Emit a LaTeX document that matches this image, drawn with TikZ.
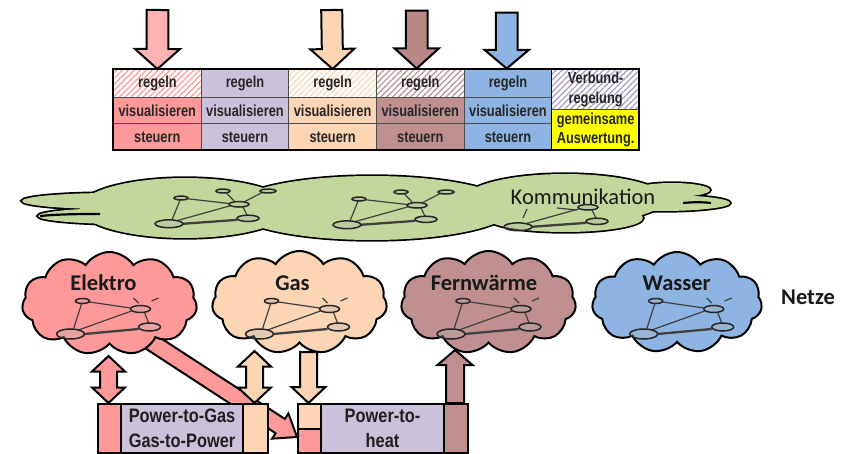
\documentclass[tikz,border=0pt]{standalone}
\usepackage{fontspec}
\usetikzlibrary{shapes.symbols,patterns.meta}
\newfontfamily\tabfont[FakeStretch=0.8]{Liberation Sans}
\newfontfamily\boxfont[FakeStretch=0.84]{Liberation Sans}
\newfontfamily\calfont{Carlito}
\definecolor{pk}{HTML}{FF9999}
\definecolor{pkarr}{HTML}{FFB3B3}
\definecolor{lav}{HTML}{CCC1DA}
\definecolor{pch}{HTML}{FCD5B4}
\definecolor{brn}{HTML}{C09090}
\definecolor{brnarr}{HTML}{BA8787}
\definecolor{blu}{HTML}{8EB4E3}
\definecolor{grn}{HTML}{C3D69B}
\definecolor{ylw}{HTML}{FFFF00}
\definecolor{hatchlav}{HTML}{A99BC6}
\newcommand\blockarrow[7]{%
  \path (#1); \pgfgetlastxy{\baX}{\baY}%
  \path (#2); \pgfgetlastxy{\bbX}{\bbY}%
  \pgfmathsetmacro\bAng{atan2((\bbY)-(\baY),(\bbX)-(\baX))}%
  \pgfmathsetmacro\bLen{veclen((\bbX)-(\baX),(\bbY)-(\baY))}%
  \pgfmathsetmacro\bNeck{\bLen-#5}%
  \begin{scope}[shift={(#1)}, rotate=\bAng]
    \ifnum#7=1
      \draw[blockarr, fill=#6] (0pt,0pt) -- (#5pt,#4pt) -- (#5pt,#3pt) -- (\bNeck pt,#3pt) -- (\bNeck pt,#4pt) -- (\bLen pt,0pt) -- (\bNeck pt,-#4pt) -- (\bNeck pt,-#3pt) -- (#5pt,-#3pt) -- (#5pt,-#4pt) -- cycle;
    \else
      \draw[blockarr, fill=#6] (0pt,#3pt) -- (\bNeck pt,#3pt) -- (\bNeck pt,#4pt) -- (\bLen pt,0pt) -- (\bNeck pt,-#4pt) -- (\bNeck pt,-#3pt) -- (0pt,-#3pt) -- cycle;
    \fi
  \end{scope}}
\tikzset{
  cell/.style={draw=black!70, line width=0.9, minimum width=87.67, inner sep=0, anchor=north west,
    font=\tabfont\bfseries\fontsize{16}{19.5}\selectfont, text=black!85, align=center},
  hatch/.style={preaction={fill=white}, pattern={Lines[angle=45,distance=4.2pt,line width=1.2pt]}, pattern color=#1},
  blockarr/.style={draw=black, line width=2, line join=miter},
  netcloud/.style={cloud, cloud puffs=11, cloud puff arc=115, draw=black, line width=2,
    minimum width=175, minimum height=103, inner sep=0},
  lbl/.style={font=\calfont\bfseries\fontsize{22.5}{26}\selectfont, text=black!90},
  boxpart/.style={draw=black, line width=2, inner sep=0, anchor=north west,
    font=\boxfont\bfseries\fontsize{19.5}{25}\selectfont, align=center, text=black!88},
  nl/.style={draw=black!75, line width=1.2},
  nn/.style={draw=black!85, line width=1.5, fill=gray!60, fill opacity=0.3},
  netcore/.pic={
    \draw[nl] (-25,47) -- (28,28);
    \draw[nl, line width=2.3] (-19,51) -- (35,46);
    \draw[nl] (41,29.5) -- (45,40);
    \draw[nn] (37,26) ellipse [x radius=10pt, y radius=3.5pt];
    \draw[nn] (-33,51) ellipse [x radius=14pt, y radius=5pt];
    \draw[nn] (46,44) ellipse [x radius=11pt, y radius=4pt];
  },
  neta/.pic={
    \draw[nl] (-14,19) -- (27,25);
    \draw[nl] (-22,21) -- (-30,46);
    \draw[nn] (-21,18) ellipse [x radius=7pt, y radius=2.5pt];
  },
  netstub/.pic={
    \draw[nl] (30,15) -- (35,20);
    \draw[nl] (48,18) -- (55,15);
  },
  netextra/.pic={
    \draw[nl] (33,23) -- (24,11);
    \draw[nl] (42,23) -- (60,11);
    \draw[nn] (21,9) ellipse [x radius=7pt, y radius=2.5pt];
    \draw[nn] (66,9) ellipse [x radius=8pt, y radius=2.5pt];
  }
}
\begin{document}
\begin{tikzpicture}[x=1pt,y=-1pt]
\useasboundingbox (0,0) rectangle (843,454);

% ---------- table ----------
\node[cell, hatch=pk, minimum height=28] (r1) at (113,69) {regeln};
\node[cell, fill=pk, minimum height=26] (v1) at (113,97) {visualisieren};
\node[cell, fill=pk, minimum height=27] (s1) at (113,123) {steuern};
\node[cell, fill=lav, minimum height=28] (r2) at (200.67,69) {regeln};
\node[cell, fill=lav, minimum height=26] (v2) at (200.67,97) {visualisieren};
\node[cell, fill=lav, minimum height=27] (s2) at (200.67,123) {steuern};
\node[cell, hatch=pch, minimum height=28] (r3) at (288.33,69) {regeln};
\node[cell, fill=pch, minimum height=26] (v3) at (288.33,97) {visualisieren};
\node[cell, fill=pch, minimum height=27] (s3) at (288.33,123) {steuern};
\node[cell, hatch=brn, minimum height=28] (r4) at (376,69) {regeln};
\node[cell, fill=brn, minimum height=26] (v4) at (376,97) {visualisieren};
\node[cell, fill=brn, minimum height=27] (s4) at (376,123) {steuern};
\node[cell, fill=blu, minimum height=28] (r5) at (463.67,69) {regeln};
\node[cell, fill=blu, minimum height=26] (v5) at (463.67,97) {visualisieren};
\node[cell, fill=blu, minimum height=27] (s5) at (463.67,123) {steuern};
\node[cell, hatch=hatchlav, minimum height=40] (vb) at (551.33,69) {Verbund-\\regelung};
\node[cell, fill=ylw, minimum height=41, font=\tabfont\bfseries\fontsize{16}{18.5}\selectfont] (ga) at (551.33,109) {gemeinsame\\Auswertung.};
\draw[black, line width=2] (113,69) rectangle (639,150);
\draw[black, line width=1.6] (551.33,69) -- (551.33,150);

% ---------- top arrows ----------
\coordinate (a1) at (157.5,10);
\coordinate (a3) at (331.7,10);
\coordinate (a4) at (416.7,10.7);
\coordinate (a4t) at (416.7,68.5);
\coordinate (a5) at (506.7,12.7);
\coordinate (a5t) at (506.7,68.5);
\blockarrow{a1}{r1.north}{10.8}{22.5}{20}{pkarr}{0}
\blockarrow{a3}{r3.north}{10.5}{22}{20}{pch}{0}
\blockarrow{a4}{a4t}{10.8}{22}{20}{brnarr}{0}
\blockarrow{a5}{a5t}{10.8}{22}{18.5}{blu}{0}

% ---------- communication cloud ----------
\foreach \cx/\cy/\rx/\ry in {112/201/90/8, 125/216/87/8, 185/208/105/30, 372/208/140/32,
    565/199/100/25, 672/190/38/7, 662/203/68/8, 565/218/78/14}
  \draw[black, line width=3.4] (\cx,\cy) ellipse [x radius=\rx pt, y radius=\ry pt];
\foreach \cx/\cy/\rx/\ry in {112/201/90/8, 125/216/87/8, 185/208/105/30, 372/208/140/32,
    565/199/100/25, 672/190/38/7, 662/203/68/8, 565/218/78/14}
  \fill[grn] (\cx,\cy) ellipse [x radius=\rx pt, y radius=\ry pt];
\draw[black, line width=2.2] (40,216) .. controls (60,214) and (85,214) .. (100,214);
\draw[black, line width=2.2] (683,203) .. controls (693,202) and (703,202) .. (711,203);
\pic[yscale=0.78] at (202,184) {netcore};
\pic[yscale=0.78] at (202,184) {neta};
\pic[yscale=0.78] at (202,184) {netextra};
\pic[yscale=0.78] at (380,185) {netcore};
\pic[yscale=0.78] at (380,185) {neta};
\pic[yscale=0.78] at (380,185) {netextra};
\pic[yscale=0.78] at (551,187) {netcore};
\draw[nl] (523,218) -- (527,209);
\draw[nl] (557,208) -- (577,210);
\node[font=\calfont\fontsize{22.5}{26}\selectfont, text=black!90] (komm) at (583,197) {Kommunikation};

% ---------- arrows between networks and converters ----------
\coordinate (elkout) at (145,338);
\coordinate (diagtip) at (297,437);
\coordinate (elkbot) at (108.5,356);
\coordinate (gasbot1) at (254.5,351);
\coordinate (gasbot2) at (308.5,352);
\coordinate (fernbot) at (455,350);
\coordinate (b1ltop) at (108.5,403);
\coordinate (b1rtop) at (254.5,403);
\coordinate (b2ttop) at (308.5,403);
\coordinate (b2rtop) at (455,403);
\blockarrow{elkout}{diagtip}{8.5}{15}{20}{pk}{0}
\blockarrow{elkbot}{b1ltop}{8.5}{16.5}{15.5}{pk}{1}
\blockarrow{gasbot1}{b1rtop}{8.5}{16.5}{15.5}{pch}{1}
\blockarrow{gasbot2}{b2ttop}{8.5}{17}{16}{pch}{0}
\blockarrow{b2rtop}{fernbot}{9}{17.5}{15}{brn}{0}

% ---------- network clouds ----------
\node[netcloud, fill=pk] (elektro) at (109.5,303.5) {};
\node[netcloud, fill=pch] (gas) at (299.5,302.5) {};
\node[netcloud, fill=brn] (fern) at (488.5,302.5) {};
\node[netcloud, fill=blu, minimum width=170, minimum height=101] (wasser) at (677,302.5) {};
\foreach \lx in {103.5,292.5,484,676.7}{
  \pic at (\lx,283) {netcore};
  \pic at (\lx,283) {neta};
  \pic at (\lx,283) {netstub};
}
\node[lbl] (lelektro) at (103.5,283) {Elektro};
\node[lbl] (lgas) at (292.5,283) {Gas};
\node[lbl] (lfern) at (484,283) {Fernwärme};
\node[lbl] (lwasser) at (676.7,283) {Wasser};
\node[lbl] (netze) at (808,297) {Netze};

% ---------- converter boxes ----------
\node[boxpart, fill=pk, minimum width=23, minimum height=49] (b1l) at (97,403) {};
\node[boxpart, fill=lav, minimum width=122, minimum height=49] (b1m) at (120,403) {Power-to-Gas\\Gas-to-Power};
\node[boxpart, fill=pch, minimum width=25, minimum height=49] (b1r) at (242,403) {};
\node[boxpart, fill=pch, minimum width=23, minimum height=25] (b2t) at (297,403) {};
\node[boxpart, fill=pk, minimum width=23, minimum height=24] (b2b) at (297,428) {};
\node[boxpart, fill=lav, minimum width=123, minimum height=49] (b2m) at (320,403) {Power-to-\\heat};
\node[boxpart, fill=brn, minimum width=24, minimum height=49] (b2r) at (443,403) {};
\end{tikzpicture}
\end{document}
